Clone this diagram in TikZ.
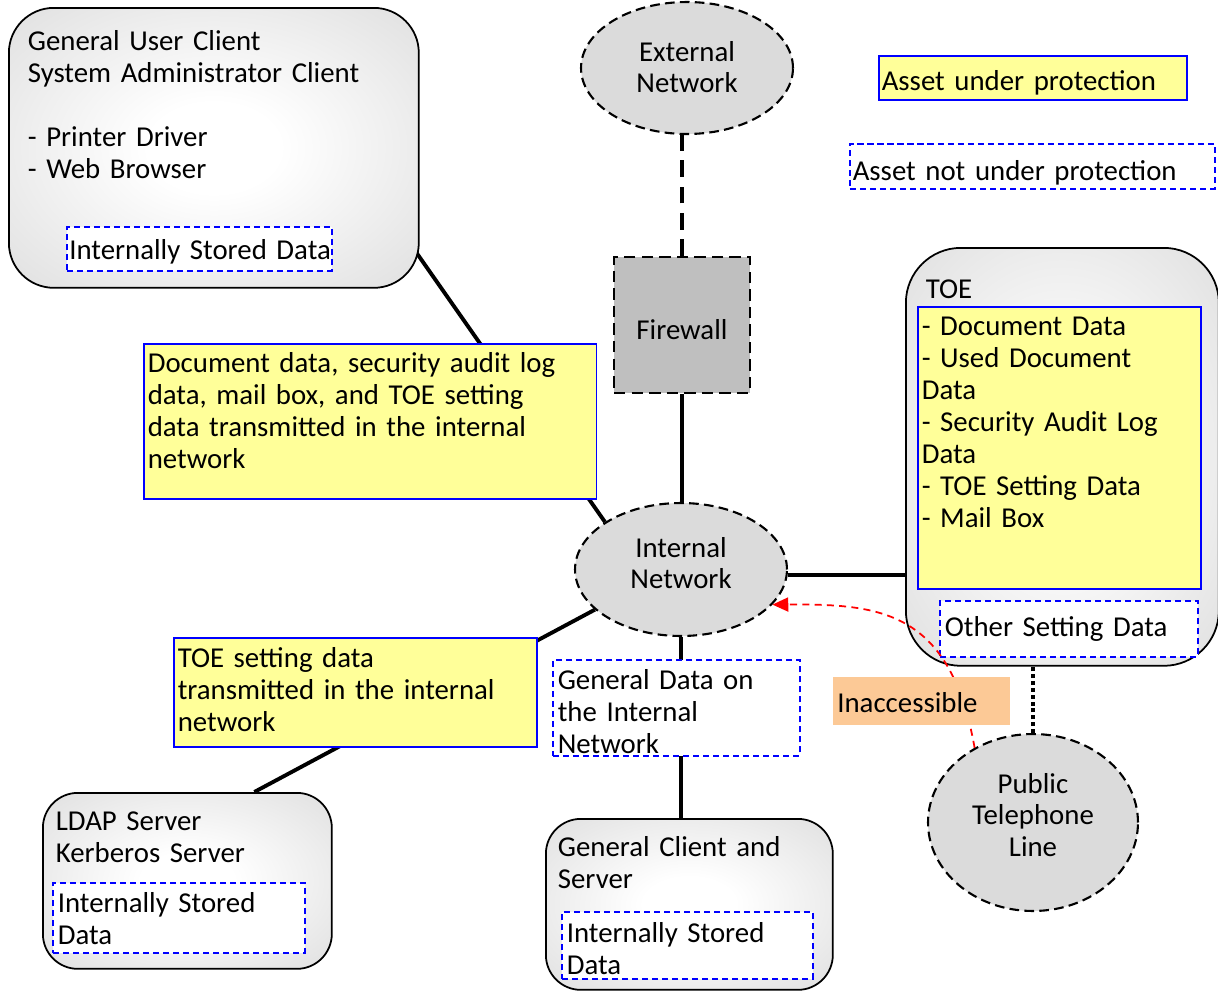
\documentclass[tikz,border=0pt]{standalone}
\usepackage{fontspec}
\setmainfont{Carlito}
\usetikzlibrary{shapes.geometric,arrows.meta}

\definecolor{assetyellow}{HTML}{FFFF99}
\definecolor{denyorange}{HTML}{FCC996}

\pgfdeclarelayer{background}
\pgfsetlayers{background,main}

\pgfdeclareradialshading{devicefill}{\pgfpoint{0bp}{0bp}}{color(0bp)=(white); color(8bp)=(white); color(42bp)=(black!15); color(50bp)=(black!15)}

\tikzset{
  device/.style={draw, line width=1pt, shade, shading=devicefill, inner ysep=0pt, anchor=north west, align=left},
  network/.style={ellipse, draw, line width=1.2pt, dash pattern=on 5.5pt off 3pt, fill=black!14, align=center, inner sep=0pt, text width=2.8cm, text height=0.5cm},
  barrier/.style={draw, line width=1.2pt, dash pattern=on 6.5pt off 3.5pt, fill=black!25},
  protected/.style={draw=blue, line width=0.9pt, fill=assetyellow, inner ysep=0pt, anchor=north west, align=left},
  unprotected/.style={draw=blue, line width=0.9pt, dash pattern=on 3.5pt off 2.2pt, fill=white, inner ysep=0pt, anchor=north west, align=left},
  blocked/.style={fill=denyorange, inner ysep=0pt, anchor=north west, align=left},
  link/.style={line width=2.2pt},
  extlink/.style={line width=2.2pt, dash pattern=on 9.5pt off 5.5pt},
  phonelink/.style={line width=2.3pt, dash pattern=on 2.3pt off 1.6pt},
  denied/.style={draw=red, line width=1pt, dash pattern=on 4pt off 3pt, -{Triangle[length=9pt,width=8pt]}},
}

\begin{document}
\begin{tikzpicture}[x=0.02cm, y=-0.02cm, font=\fontsize{16.4}{18.2}\selectfont]
\useasboundingbox (0,0) rectangle (1218,991);

\node[device, rounded corners=0.9cm, inner xsep=0.38cm, text width=7.44cm, text height=0.86cm, text depth=4.74cm] (client) at (8,7) {General User Client\\System Administrator Client\\[18.2pt]- Printer Driver\\- Web Browser};
\node[unprotected, inner xsep=0.05cm, text width=5.2cm, text height=0.66cm, text depth=0.22cm] (clientdata) at (66,226) {\mbox{Internally Stored Data}};

\node[network, minimum width=4.24cm, minimum height=2.64cm, text depth=0.78cm] (ext) at (687,68) {External\\Network};
\node[barrier, minimum size=2.72cm, text height=0.58cm, text depth=0cm] (fw) at (682,325) {Firewall};
\node[network, minimum width=4.24cm, minimum height=2.66cm, text depth=1.0cm] (inet) at (681,569.5) {Internal\\Network};

\node[protected, inner xsep=0.06cm, text width=6.04cm, text height=0.7cm, text depth=0.18cm] (prot) at (878,55) {Asset under protection};
\node[unprotected, inner xsep=0.06cm, text width=7.18cm, text height=0.74cm, text depth=0.16cm] (unprot) at (849,143) {Asset not under protection};

\node[device, rounded corners=1.1cm, inner xsep=0.4cm, text width=5.46cm, text height=1.02cm, text depth=7.34cm] (toe) at (905,247) {TOE};
\node[protected, inner xsep=0.08cm, text width=5.5cm, text height=0.58cm, text depth=5.06cm] (toeassets) at (917,306) {- Document Data\\- Used Document\\Data\\- Security Audit Log\\Data\\- TOE Setting Data\\- Mail Box};
\node[unprotected, inner xsep=0.1cm, text width=4.96cm, text height=0.72cm, text depth=0.4cm] (other) at (939,600) {Other Setting Data};

\node[network, minimum width=4.2cm, minimum height=3.54cm, text depth=1.68cm] (phone) at (1033,822.5) {Public\\Telephone\\Line};

\node[device, rounded corners=0.7cm, inner xsep=0.26cm, text width=5.26cm, text height=0.76cm, text depth=2.76cm] (ldap) at (42,792) {LDAP Server\\Kerberos Server};
\node[unprotected, inner xsep=0.1cm, text width=4.84cm, text height=0.6cm, text depth=0.8cm] (ldapdata) at (52,882) {Internally Stored\\Data};
\node[device, rounded corners=0.7cm, inner xsep=0.24cm, text width=5.26cm, text height=0.76cm, text depth=2.66cm] (gcli) at (545,818) {General Client and\\Server};
\node[unprotected, inner xsep=0.1cm, text width=4.82cm, text height=0.62cm, text depth=0.72cm] (gclidata) at (561,911) {Internally Stored\\Data};

\node[protected, inner xsep=0.08cm, text width=8.9cm, text height=0.58cm, text depth=2.52cm] (docdata) at (143,343) {Document data, security audit log\\data, mail box, and TOE setting\\data transmitted in the internal\\network};
\node[protected, inner xsep=0.08cm, text width=7.1cm, text height=0.6cm, text depth=1.58cm] (toeset) at (173,637) {TOE setting data\\transmitted in the internal\\network};
\node[unprotected, inner xsep=0.1cm, text width=4.74cm, text height=0.6cm, text depth=1.32cm] (gdata) at (552,659) {General Data on\\the Internal\\Network};

\draw[denied] (phone.128) .. controls (950,610) and (880,604) .. (inet.-21);
\node[blocked, inner xsep=0.08cm, text width=3.38cm, text height=0.7cm, text depth=0.26cm] (inacc) at (833,677) {Inaccessible};

\begin{pgfonlayer}{background}
\draw[extlink] (fw.north) -- (fw.north |- ext.south);
\draw[link] (fw.south) -- (fw.south |- inet.north);
\draw[link, shorten <=-0.2cm] (client.-28) -- (inet.148);
\draw[link] (ldap.53) -- (inet.205);
\draw[link] (inet.south) -- (inet.south |- gcli.north);
\draw[link] (inet.-3) -- (inet.-3 -| toe.west);
\draw[phonelink] (phone.north) -- (phone.north |- toe.south);
\end{pgfonlayer}

\end{tikzpicture}
\end{document}
